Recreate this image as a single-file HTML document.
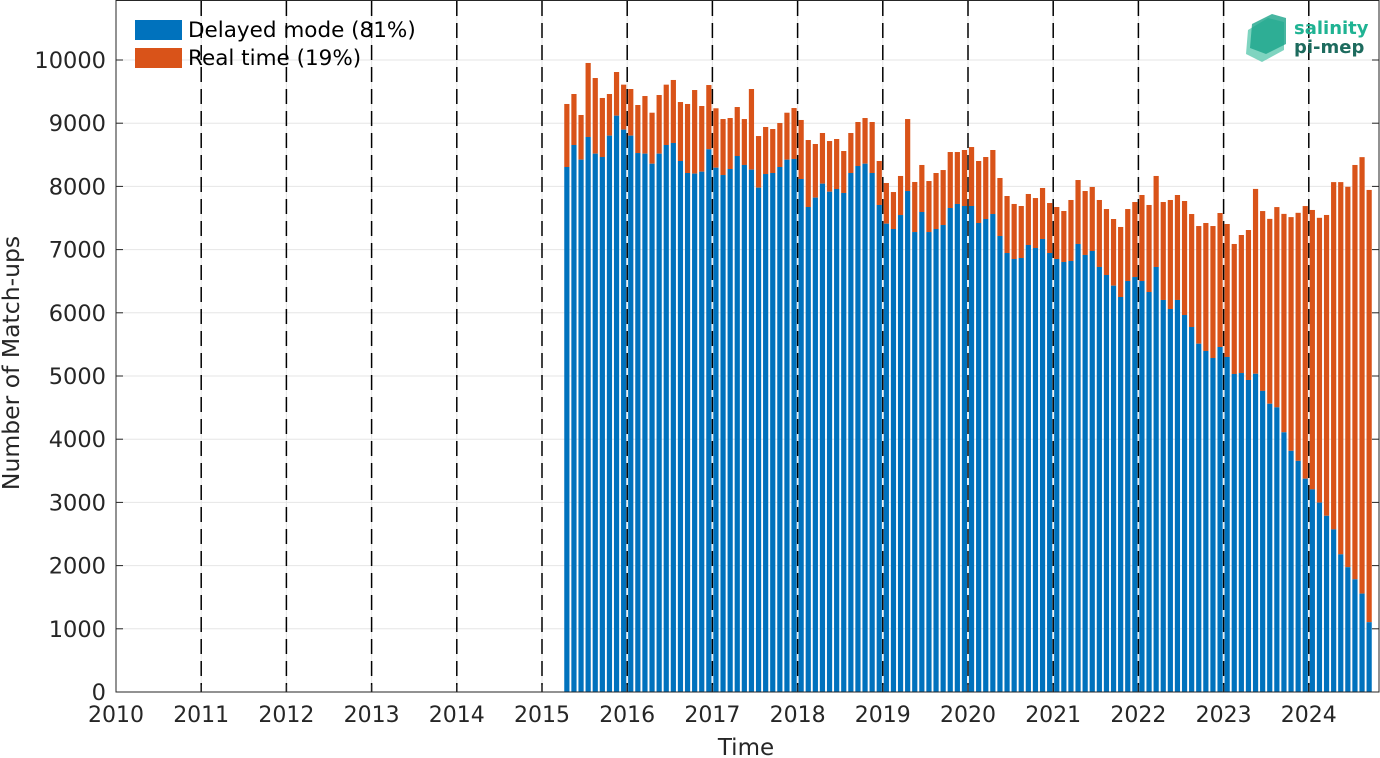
<!DOCTYPE html>
<html><head><meta charset="utf-8"><style>
html,body{margin:0;padding:0;background:#fff;}
svg{display:block;font-family:"DejaVu Sans","Liberation Sans",sans-serif;}
</style></head><body>
<svg id="chart" width="1380" height="758" xmlns="http://www.w3.org/2000/svg">
<g id="grid"></g>
<g id="vlines"></g>
<g id="bars"></g>
<g id="axes"></g>
<g>
<rect x="135" y="20" width="47" height="20" fill="#0072bd"/>
<text x="188" y="37" font-size="21.5" fill="#000">Delayed mode (81%)</text>
<rect x="135" y="48" width="47" height="20" fill="#d95319"/>
<text x="188" y="65" font-size="21.5" fill="#000">Real time (19%)</text>
</g>
<g>
<path d="M1248 30 L1268 18 L1284 22 L1284 50 L1262 62 L1246 54 Z" fill="#5fc9b0" opacity="0.8"/>
<path d="M1252 24 L1272 14 L1286 18 L1286 44 L1266 54 L1250 48 Z" fill="#1aa48a" opacity="0.8"/>
<text x="1294" y="34" font-size="18" font-weight="bold" fill="#1fb393">salinity</text>
<text x="1294" y="53" font-size="18" font-weight="bold" fill="#1d6b5e">pi-mep</text>
</g>
<text x="746" y="755" font-size="23" text-anchor="middle" fill="#262626">Time</text>
<text transform="translate(19,363) rotate(-90)" font-size="23.5" text-anchor="middle" fill="#262626">Number of Match-ups</text>
</svg>
<script>
const startYear = 2015;
const startMonth = 3; // April (0-indexed)
const totalValues = [
9304,9462,9130,9953,9715,9399,9462,9810,9610,
9541,9288,9430,9166,9446,9610,9684,9335,9304,9525,9272,9604,
9236,9066,9082,9256,9066,9541,8797,8940,8908,9003,9166,9240,
9051,8734,8671,8845,8718,8750,8560,8845,9019,9082,9019,8402,
8054,7911,8165,9066,8070,8339,8085,8212,8259,8544,8544,8576,
8623,8402,8465,8576,8133,7848,7722,7690,7880,7816,7975,7737,
7674,7611,7785,8101,7927,7991,7785,7642,7484,7358,7642,7753,
7864,7706,8165,7753,7785,7864,7769,7563,7373,7421,7373,7579,
7405,7089,7231,7310,7960,7610,7486,7673,7565,7514,7582,7689,
7627,7503,7548,8068,8068,7994,8339,8463,7944];
const delayedValues = [
8307,8655,8423,8782,8518,8465,8803,9119,8898,
8803,8528,8518,8359,8518,8655,8687,8402,8212,8202,8233,8587,
8296,8180,8275,8481,8339,8265,7980,8196,8212,8307,8423,8434,
8117,7674,7822,8043,7916,7959,7896,8212,8323,8359,8212,7706,
7410,7326,7547,7927,7278,7595,7278,7326,7389,7658,7722,7690,
7690,7421,7484,7563,7215,6946,6851,6867,7073,7025,7168,6946,
6851,6804,6820,7089,6915,6978,6725,6598,6429,6250,6503,6566,
6503,6329,6725,6203,6060,6203,5965,5775,5511,5396,5285,5459,
5301,5032,5047,4937,5035,4764,4561,4504,4109,3816,3657,3375,
3206,2997,2788,2573,2178,1975,1783,1557,1105];
const yTicks = [0,1000,2000,3000,4000,5000,6000,7000,8000,9000,10000];
const xTicks = [2010,2011,2012,2013,2014,2015,2016,2017,2018,2019,2020,2021,2022,2023,2024];

const NS = "http://www.w3.org/2000/svg";
const L = 116, R = 1379, T = 1, B = 692;
const pxYear = 85.2;
const x = t => L + (t - 2010) * pxYear;
const y = v => B - v * 0.0632;
function mk(tag, attrs, parent) {
  const e = document.createElementNS(NS, tag);
  for (const k in attrs) e.setAttribute(k, attrs[k]);
  parent.appendChild(e);
  return e;
}
const grid = document.getElementById('grid');
const vl = document.getElementById('vlines');
const bars = document.getElementById('bars');
const axes = document.getElementById('axes');

yTicks.forEach(v => {
  const g = mk('line', {x1: L, x2: R, y1: y(v), y2: y(v), stroke: '#e6e6e6', 'stroke-width': 1}, grid);
  
  
  const tk = mk('line', {x1: L, x2: L + 7, y1: y(v), y2: y(v), stroke: '#262626', 'stroke-width': 1}, axes);
  
  
  const tk2 = mk('line', {x1: R - 7, x2: R, y1: y(v), y2: y(v), stroke: '#262626', 'stroke-width': 1}, axes);
  
  
  const tl = mk('text', {x: L - 10, y: y(v) + 8, 'font-size': 22.5, 'text-anchor': 'end', fill: '#262626'}, axes);
  tl.textContent = v;
  
  
});

xTicks.forEach(t => {
  const vg = mk('line', {x1: x(t), x2: x(t), y1: T, y2: B, stroke: '#e6e6e6', 'stroke-width': 1}, grid);
  
  
  if (t > 2010) {
    const d = mk('line', {x1: x(t), x2: x(t), y1: T, y2: B, stroke: '#000', 'stroke-width': 1.5, 'stroke-dasharray': '15,7'}, vl);
    
    
  }
  const tk = mk('line', {x1: x(t), x2: x(t), y1: B, y2: B - 7, stroke: '#262626', 'stroke-width': 1}, axes);
  
  
  const tl = mk('text', {x: x(t), y: 722, 'font-size': 22, 'text-anchor': 'middle', fill: '#262626'}, axes);
  tl.textContent = t;
  
  
});

const bw = 5.2;
totalValues.forEach((tot, i) => {
  const t = startYear + (startMonth + i + 0.5) / 12;
  const cx = x(t);
  const dv = delayedValues[i];
  const rr = mk('rect', {x: cx - bw / 2, y: y(tot), width: bw, height: y(dv) - y(tot), fill: '#d95319'}, bars);
  
  
  const rb = mk('rect', {x: cx - bw / 2, y: y(dv), width: bw, height: B - y(dv), fill: '#0072bd'}, bars);
  
  
});

const box = mk('rect', {x: L, y: T - 0.5, width: R - L, height: B - T + 0.5, fill: 'none', stroke: '#262626', 'stroke-width': 1}, axes);


</script>
</body></html>
